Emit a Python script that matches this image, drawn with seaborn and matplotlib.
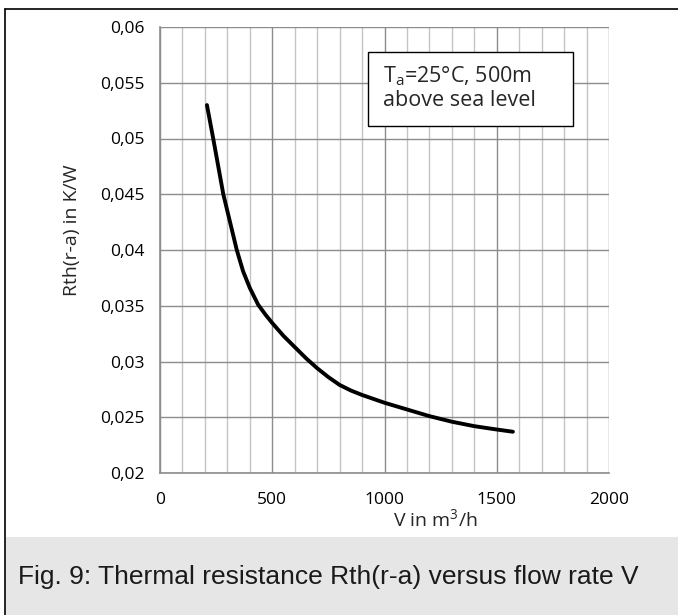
import numpy as np
import pandas as pd
import matplotlib
matplotlib.use('Agg')
import matplotlib.pyplot as plt
import seaborn as sns
from matplotlib.patches import Rectangle
from matplotlib.lines import Line2D
from matplotlib.ticker import MultipleLocator, FuncFormatter

# values
flow = [209, 237, 282, 342, 370, 400, 437, 470, 500, 550, 600, 650, 700,
        750, 800, 850, 900, 1000, 1100, 1200, 1300, 1400, 1500, 1572]
rth = [0.0530, 0.0500, 0.0450, 0.0400, 0.0381, 0.0366, 0.0351, 0.0342,
       0.03345, 0.0323, 0.0313, 0.0303, 0.0294, 0.0286, 0.0279, 0.0274,
       0.0270, 0.0263, 0.0257, 0.0251, 0.0246, 0.0242, 0.0239, 0.0237]

x_ticks = [0, 500, 1000, 1500, 2000]
y_ticks = [0.02, 0.025, 0.03, 0.035, 0.04, 0.045, 0.05, 0.055, 0.06]

caption = "Fig. 9: Thermal resistance Rth(r-a) versus flow rate V"
note = "T$_{\\mathregular{a}}$=25°C, 500m\nabove sea level"

sns.set_style('white')
plt.rcParams['font.family'] = ['Open Sans', 'DejaVu Sans']

W, H = 678, 615
fig = plt.figure(figsize=(W / 100, H / 100), dpi=100)

def fx(px):
    return px / W

def fy(py):
    return 1 - py / H

# frame and caption band
fig.add_artist(Rectangle((fx(6), 0), 1, fy(537), transform=fig.transFigure,
                         facecolor='#e6e6e6', edgecolor='none', zorder=0))
fig.add_artist(Line2D([fx(5), 1], [fy(9), fy(9)], transform=fig.transFigure,
                      color='black', lw=1.2))
fig.add_artist(Line2D([fx(5), fx(5)], [0, fy(9)], transform=fig.transFigure,
                      color='black', lw=1.2))
fig.text(fx(18), fy(577), caption, family='Liberation Sans', fontsize=19,
         va='center', ha='left', color='#1a1a1a')

left, right, top, bottom = 160, 609, 27, 473
ax = fig.add_axes([fx(left), fy(bottom), (right - left) / W, (bottom - top) / H])

df = pd.DataFrame({'V': flow, 'R': rth})
sns.lineplot(data=df, x='V', y='R', ax=ax, color='black', lw=2.8,
             solid_capstyle='round', solid_joinstyle='round', zorder=5)

ax.set_xlim(0, 2000)
ax.set_ylim(0.02, 0.06)
ax.set_xticks(x_ticks)
ax.set_yticks(y_ticks)
ax.xaxis.set_minor_locator(MultipleLocator(100))
fmt = FuncFormatter(lambda v, p: f"{v:g}".replace('.', ','))
ax.yaxis.set_major_formatter(fmt)

ax.grid(which='minor', axis='x', color='#c4c4c4', lw=1.0)
ax.grid(which='major', axis='x', color='#8c8c8c', lw=1.0)
ax.grid(which='major', axis='y', color='#8c8c8c', lw=1.0)
ax.set_axisbelow(True)

for s in ['top', 'right']:
    ax.spines[s].set_visible(False)
for s in ['left', 'bottom']:
    ax.spines[s].set_color('#8c8c8c')
    ax.spines[s].set_linewidth(1.2)

ax.tick_params(axis='both', which='major', direction='out', length=5,
               width=1, color='#8c8c8c', labelsize=12.5, labelcolor='black')
ax.tick_params(axis='x', which='major', pad=9)
ax.tick_params(axis='y', which='major', pad=6)
ax.tick_params(axis='x', which='minor', length=0)
ax.set_xlabel('')
ax.set_ylabel('')

fig.text(fx(72), fy(230), "Rth(r-a) in K/W", rotation=90, fontsize=14,
         va='center', ha='center')
fig.text(fx(435), fy(520), "V in m$^{\\mathregular{3}}$/h", fontsize=14,
         va='center', ha='center')

# annotation box
fig.add_artist(Rectangle((fx(368), fy(126)), (573 - 368) / W, (126 - 52) / H,
                         transform=fig.transFigure, facecolor='white',
                         edgecolor='black', lw=1.0, zorder=6))
fig.text(fx(383), fy(88), note, fontsize=15.5, va='center', ha='left',
         linespacing=1.15, zorder=7)

fig.savefig('out.png', dpi=100)
